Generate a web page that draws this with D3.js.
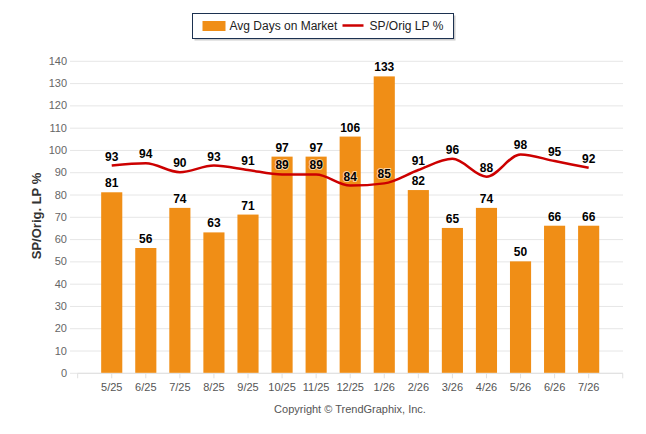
<!DOCTYPE html>
<html>
<head>
<meta charset="utf-8">
<script src="https://cdn.jsdelivr.net/npm/d3@7"></script>
<style>
  body { margin: 0; background: #fff; }
  svg { display: block; font-family: "Liberation Sans", Arial, sans-serif; }
</style>
</head>
<body>
<svg id="chart" width="646" height="434"></svg>
<script>
const months = ["5/25", "6/25", "7/25", "8/25", "9/25", "10/25", "11/25", "12/25", "1/26", "2/26", "3/26", "4/26", "5/26", "6/26", "7/26"];
const avgDays = [81, 56, 74, 63, 71, 97, 97, 106, 133, 82, 65, 74, 50, 66, 66];
const spOrig = [93, 94, 90, 93, 91, 89, 89, 84, 85, 91, 96, 88, 98, 95, 92];
const yTicks = [0, 10, 20, 30, 40, 50, 60, 70, 80, 90, 100, 110, 120, 130, 140];

const svg = d3.select("#chart");
const barColor = "#f08e16", lineColor = "#cc0000";

const x = d3.scaleBand()
  .domain(months)
  .range([94.7, 605.7])
  .paddingInner(0.38)
  .paddingOuter(0.19);
const step = x.step();
const cx = d => x(d) + x.bandwidth() / 2;

const y = d3.scaleLinear().domain([0, 140]).range([372.8, 60.8]);

// grid + y labels
const gridLeft = 70, gridRight = 623;
const yAxis = svg.append("g")
  .attr("transform", `translate(${gridLeft},0)`)
  .call(d3.axisLeft(y).tickValues(yTicks).tickSize(-(gridRight - gridLeft)).tickPadding(3));
yAxis.select(".domain").remove();
yAxis.selectAll("line").attr("stroke", "#e6e6e6");
yAxis.selectAll("text")
  .attr("fill", "#666")
  .style("font-size", "11px")
  .style("font-family", "'Liberation Sans', Arial, sans-serif");

// x axis
const xAxis = svg.append("g")
  .attr("transform", `translate(0,${y(0) + 0.5})`)
  .call(d3.axisBottom(x).tickSize(5).tickSizeOuter(0).tickPadding(5));
xAxis.select(".domain").remove();
xAxis.selectAll("line").attr("stroke", "#e0e0e0");
xAxis.selectAll("text")
  .attr("fill", "#555")
  .style("font-size", "11px")
  .style("font-family", "'Liberation Sans', Arial, sans-serif");
const axStart = cx(months[0]) - step, axEnd = cx(months[months.length - 1]) + step;
xAxis.append("line").attr("x1", axStart).attr("x2", axEnd).attr("stroke", "#e0e0e0");
[axStart, axEnd].forEach(p => xAxis.append("line").attr("x1", p).attr("x2", p).attr("y2", 5).attr("stroke", "#e0e0e0"));

// bars
svg.append("g").selectAll("rect")
  .data(avgDays)
  .join("rect")
  .attr("x", (d, i) => x(months[i]))
  .attr("y", d => y(d))
  .attr("width", x.bandwidth())
  .attr("height", d => y(0) - y(d))
  .attr("fill", barColor);

// line
const line = d3.line()
  .x((d, i) => cx(months[i]))
  .y(d => y(d))
  .curve(d3.curveMonotoneX);
svg.append("path")
  .datum(spOrig)
  .attr("d", line)
  .attr("fill", "none")
  .attr("stroke", lineColor)
  .attr("stroke-width", 2.5);

// data labels
function labels(data, cls) {
  svg.append("g").selectAll("text")
    .data(data)
    .join("text")
    .attr("class", cls)
    .attr("x", (d, i) => cx(months[i]))
    .attr("y", d => y(d) - 5)
    .attr("text-anchor", "middle")
    .style("font-size", "12px")
    .style("font-weight", "bold")
    .attr("fill", "#000")
    .attr("stroke", "#fff")
    .attr("stroke-width", 2)
    .attr("stroke-opacity", 0.6)
    .attr("paint-order", "stroke")
    .text(d => d);
}
labels(avgDays, "bar-label");
labels(spOrig, "line-label");

// y axis title
svg.append("text")
  .attr("transform", "translate(41,216) rotate(-90)")
  .attr("text-anchor", "middle")
  .style("font-size", "13px")
  .style("font-weight", "bold")
  .attr("fill", "#333")
  .text("SP/Orig. LP %");

// legend
const lg = svg.append("g").attr("transform", "translate(192.5,13.5)");
lg.append("rect").attr("x", 2).attr("y", 2).attr("width", 261).attr("height", 25).attr("fill", "#999").attr("opacity", 0.5);
lg.append("rect").attr("width", 261).attr("height", 25).attr("fill", "#fff").attr("stroke", "#1c3150").attr("stroke-width", 1);
lg.append("rect").attr("x", 10).attr("y", 7.5).attr("width", 23).attr("height", 10).attr("fill", barColor);
lg.append("text").attr("x", 37).attr("y", 16.5).style("font-size", "12px").attr("fill", "#222").text("Avg Days on Market");
lg.append("line").attr("x1", 150).attr("x2", 171).attr("y1", 12).attr("y2", 12).attr("stroke", lineColor).attr("stroke-width", 2.5);
lg.append("text").attr("x", 177).attr("y", 16.5).style("font-size", "12px").attr("fill", "#222").text("SP/Orig LP %");

// credit
svg.append("text")
  .attr("x", 350).attr("y", 413)
  .attr("text-anchor", "middle")
  .style("font-size", "11px")
  .attr("fill", "#555")
  .text("Copyright \u00A9 TrendGraphix, Inc.");
</script>
</body>
</html>
